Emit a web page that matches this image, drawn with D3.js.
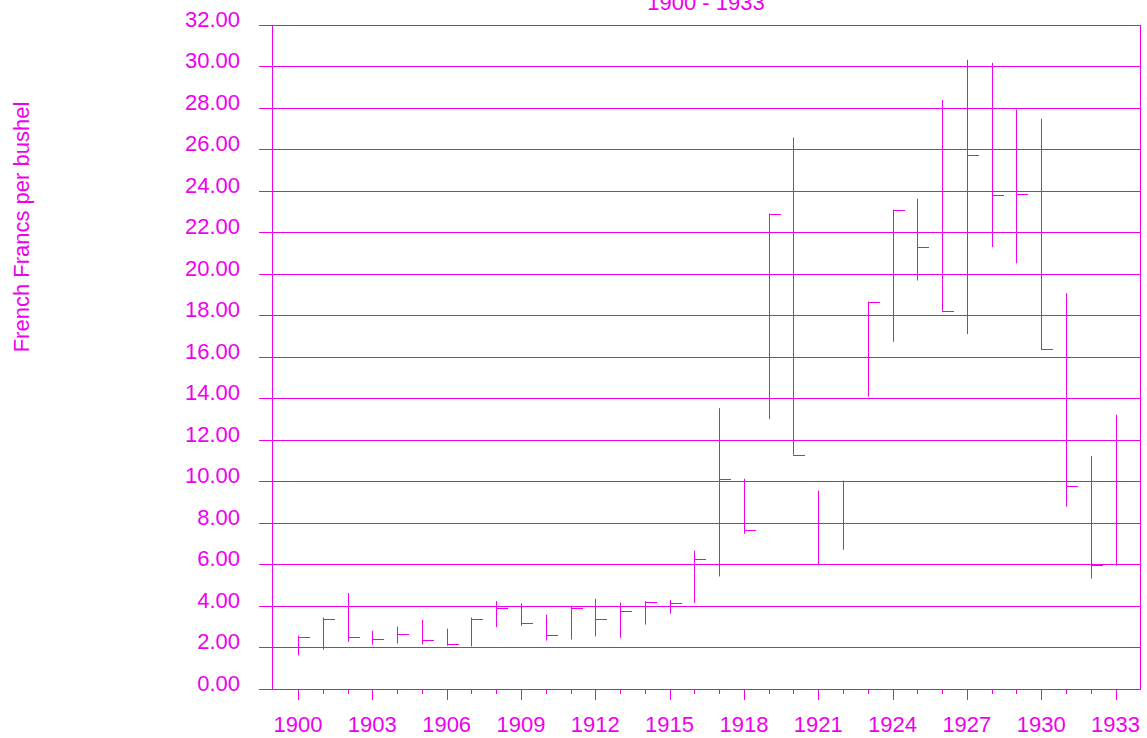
<!DOCTYPE html>
<html>
<head>
<meta charset="utf-8">
<script src="https://cdn.jsdelivr.net/npm/d3@7"></script>
<style>
  html, body { margin: 0; padding: 0; background: #fff; }
  svg { display: block; }
  text { font-family: "Liberation Sans", Arial, sans-serif; }
</style>
</head>
<body>
<svg id="chart" width="1147" height="738"></svg>
<script>
const years = [1900,1901,1902,1903,1904,1905,1906,1907,1908,1909,1910,1911,1912,1913,1914,1915,1916,1917,1918,1919,1920,1921,1922,1923,1924,1925,1926,1927,1928,1929,1930,1931,1932,1933];
const highs = [2.55,3.42,4.60,2.78,2.99,3.31,2.88,3.42,4.21,4.10,3.55,3.99,4.32,4.14,4.21,4.26,6.64,13.51,10.11,22.89,26.55,9.53,10.02,18.65,23.08,23.60,28.36,30.30,30.15,27.90,27.46,19.05,11.21,13.20];
const lows = [1.60,1.87,2.25,2.11,2.17,2.12,2.06,2.03,2.96,3.02,2.31,2.36,2.51,2.44,3.08,3.60,4.12,5.40,7.46,12.98,11.27,5.99,6.68,14.07,16.71,19.66,18.20,17.08,21.27,20.49,16.35,8.77,5.30,5.92];
const closes = [2.50,3.36,2.46,2.40,2.65,2.33,2.14,3.37,3.86,3.17,2.57,3.86,3.36,3.74,4.19,4.13,6.25,10.11,7.66,22.89,11.27,5.99,10.02,18.65,23.08,21.29,18.20,25.72,23.79,23.85,16.35,9.75,5.95,11.98];
const yTicks = [0,2,4,6,8,10,12,14,16,18,20,22,24,26,28,30,32];
const xLabelYears = [1900,1903,1906,1909,1912,1915,1918,1921,1924,1927,1930,1933];
const subtitle = "1900 - 1933";
const yTitle = "French Francs per bushel";

(function () {
const color = "#ee00ee";
const svg = d3.select("#chart");

const pLeft = 272, pRight = 1140, pTop = 24.5, pBottom = 688.5;
const y = d3.scaleLinear().domain([0, 32]).range([pBottom, pTop]);
const x = d3.scaleLinear().domain([1900, 1933]).range([298, 1115.5]);

// gridlines + y ticks
const gy = svg.append("g");
gy.selectAll("line").data(yTicks).enter().append("line")
  .attr("x1", 259).attr("x2", pRight)
  .attr("y1", d => Math.round(y(d)) + 0.5).attr("y2", d => Math.round(y(d)) + 0.5)
  .attr("stroke", color).attr("stroke-width", 1);
gy.selectAll("text").data(yTicks).enter().append("text")
  .attr("x", 240).attr("y", d => Math.round(y(d)) + 1.5)
  .attr("text-anchor", "end")
  .attr("font-size", 22).attr("fill", color)
  .text(d => d3.format(".2f")(d));

// axis frame
svg.append("line").attr("x1", pLeft + 0.5).attr("x2", pLeft + 0.5)
  .attr("y1", Math.round(pTop)).attr("y2", Math.round(pBottom) + 1)
  .attr("stroke", color);
svg.append("line").attr("x1", pRight + 0.5).attr("x2", pRight + 0.5)
  .attr("y1", Math.round(pTop)).attr("y2", Math.round(pBottom) + 1)
  .attr("stroke", color);

// x ticks
const gx = svg.append("g");
gx.selectAll("line").data(years).enter().append("line")
  .attr("x1", d => Math.round(x(d)) + 0.5).attr("x2", d => Math.round(x(d)) + 0.5)
  .attr("y1", Math.round(pBottom))
  .attr("y2", d => Math.round(pBottom) + (xLabelYears.includes(d) ? 11 : 5))
  .attr("stroke", color);
gx.selectAll("text").data(xLabelYears).enter().append("text")
  .attr("x", d => x(d)).attr("y", 732)
  .attr("text-anchor", "middle")
  .attr("font-size", 22).attr("fill", color)
  .text(d => d);

// HLC bars
const data = years.map((yr, i) => ({yr, h: highs[i], l: lows[i], c: closes[i]}));
const bars = svg.append("g");
bars.selectAll("line.v").data(data).enter().append("line")
  .attr("class", "v")
  .attr("x1", d => Math.round(x(d.yr)) + 0.5).attr("x2", d => Math.round(x(d.yr)) + 0.5)
  .attr("y1", d => y(d.h)).attr("y2", d => y(d.l))
  .attr("stroke", color);
bars.selectAll("line.c").data(data).enter().append("line")
  .attr("class", "c")
  .attr("x1", d => Math.round(x(d.yr))).attr("x2", d => Math.round(x(d.yr)) + 12)
  .attr("y1", d => Math.round(y(d.c)) + 0.5).attr("y2", d => Math.round(y(d.c)) + 0.5)
  .attr("stroke", color);

// titles
svg.append("text").attr("x", 706).attr("y", 10)
  .attr("text-anchor", "middle").attr("font-size", 22).attr("fill", color)
  .text(subtitle);
svg.append("text")
  .attr("transform", "translate(29,227) rotate(-90)")
  .attr("text-anchor", "middle").attr("font-size", 22).attr("fill", color)
  .text(yTitle);
})();
</script>
</body>
</html>
